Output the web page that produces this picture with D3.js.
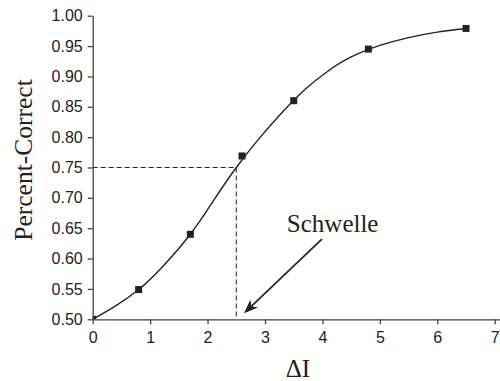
<!DOCTYPE html>
<html>
<head>
<meta charset="utf-8">
<script src="https://cdn.jsdelivr.net/npm/d3@7"></script>
<style>
  html, body { margin: 0; padding: 0; background: #fff; }
  svg { display: block; }
</style>
</head>
<body>
<svg id="chart" width="500" height="381"></svg>
<script>
// Measured data points
const pointX = [0, 0.8, 1.7, 2.6, 3.5, 4.8, 6.5];
const pointY = [0.50, 0.549, 0.640, 0.769, 0.860, 0.945, 0.979];

// Fitted curve
const curveX = [0, 0.4, 0.8, 1.2, 1.7, 2.1, 2.5, 2.9, 3.3, 3.7, 4.1, 4.5, 5.0, 5.5, 6.0, 6.5];
const curveY = [0.500, 0.522, 0.549, 0.585, 0.640, 0.695, 0.750, 0.798, 0.841, 0.879, 0.909, 0.932, 0.951, 0.964, 0.973, 0.979];

// Threshold annotation
const threshold = { x: 2.5, y: 0.75 };
const annotationLabel = "Schwelle";
const arrowFrom = [3.99, 0.632];
const arrowTo = [2.635, 0.51];
const labelAt = [3.38, 0.643];

const xTicks = [0, 1, 2, 3, 4, 5, 6, 7];
const yTicks = [0.50, 0.55, 0.60, 0.65, 0.70, 0.75, 0.80, 0.85, 0.90, 0.95, 1.00];
const xTitle = "ΔI";
const yTitle = "Percent-Correct";

const svg = d3.select("#chart");
const ink = "#222";
const axisInk = "#444";

const x = d3.scaleLinear().domain([0, 7.1]).range([92.7, 500.5]);
const y = d3.scaleLinear().domain([0.5, 1.0]).range([319.3, 15.7]);

// clip to plot area
svg.append("defs").append("clipPath").attr("id", "plotclip")
  .append("rect")
  .attr("x", x(0)).attr("y", 0)
  .attr("width", 500 - x(0)).attr("height", y(0.5));

// dashed guide lines
svg.append("line")
  .attr("x1", x(0)).attr("x2", x(threshold.x))
  .attr("y1", y(threshold.y)).attr("y2", y(threshold.y))
  .attr("stroke", ink).attr("stroke-width", 1).attr("stroke-dasharray", "5,3");
svg.append("line")
  .attr("x1", x(threshold.x)).attr("x2", x(threshold.x))
  .attr("y1", y(threshold.y)).attr("y2", y(0.5))
  .attr("stroke", ink).attr("stroke-width", 1).attr("stroke-dasharray", "5,3");

// curve
const line = d3.line()
  .x(d => x(d[0])).y(d => y(d[1]))
  .curve(d3.curveNatural);
svg.append("path")
  .datum(curveX.map((v, i) => [v, curveY[i]]))
  .attr("d", line)
  .attr("fill", "none")
  .attr("stroke", ink)
  .attr("stroke-width", 1.4);

// points
const sq = 7;
svg.append("g").attr("clip-path", "url(#plotclip)")
  .selectAll("rect")
  .data(pointX.map((v, i) => [v, pointY[i]]))
  .join("rect")
  .attr("x", d => x(d[0]) - sq / 2)
  .attr("y", d => y(d[1]) - sq / 2)
  .attr("width", sq).attr("height", sq)
  .attr("fill", ink);

// axes
const xAxis = d3.axisBottom(x).tickValues(xTicks).tickFormat(d3.format("d"))
  .tickSize(5).tickSizeOuter(0).tickPadding(7);
const gx = svg.append("g").attr("transform", `translate(0,${y(0.5)})`).call(xAxis);

const yAxis = d3.axisLeft(y).tickValues(yTicks).tickFormat(d3.format(".2f"))
  .tickSize(5).tickSizeOuter(0).tickPadding(5);
const gy = svg.append("g").attr("transform", `translate(${x(0)},0)`).call(yAxis);

[gx, gy].forEach(g => {
  g.select(".domain").attr("stroke", axisInk).attr("stroke-width", 1.3);
  g.selectAll(".tick line").attr("stroke", axisInk).attr("stroke-width", 1.3);
  g.selectAll(".tick text")
    .attr("fill", ink)
    .style("font-family", "'Liberation Sans', Arial, sans-serif")
    .style("font-size", "16px");
});

// titles
svg.append("text")
  .attr("x", 298).attr("y", 377)
  .attr("text-anchor", "middle")
  .style("font-family", "'Liberation Serif', 'Times New Roman', serif")
  .style("font-size", "25px")
  .attr("fill", ink)
  .text(xTitle);

svg.append("text")
  .attr("transform", "translate(32,160) rotate(-90)")
  .attr("text-anchor", "middle")
  .style("font-family", "'Liberation Serif', 'Times New Roman', serif")
  .style("font-size", "25.5px")
  .attr("fill", ink)
  .text(yTitle);

// annotation
svg.append("text")
  .attr("x", x(labelAt[0])).attr("y", y(labelAt[1]))
  .style("font-family", "'Liberation Serif', 'Times New Roman', serif")
  .style("font-size", "25px")
  .attr("fill", ink)
  .text(annotationLabel);

const ax0 = x(arrowFrom[0]), ay0 = y(arrowFrom[1]);
const ax1 = x(arrowTo[0]), ay1 = y(arrowTo[1]);
const ang = Math.atan2(ay1 - ay0, ax1 - ax0);
const headLen = 14, headW = 5.5, notch = 10;
const ux = Math.cos(ang), uy = Math.sin(ang);
const px = -uy, py = ux;
svg.append("line")
  .attr("x1", ax0).attr("y1", ay0)
  .attr("x2", ax1 - ux * notch).attr("y2", ay1 - uy * notch)
  .attr("stroke", ink).attr("stroke-width", 1.7);
const head = [
  [ax1, ay1],
  [ax1 - ux * headLen + px * headW, ay1 - uy * headLen + py * headW],
  [ax1 - ux * notch, ay1 - uy * notch],
  [ax1 - ux * headLen - px * headW, ay1 - uy * headLen - py * headW]
];
svg.append("polygon")
  .attr("points", head.map(p => p.join(",")).join(" "))
  .attr("fill", ink);
</script>
</body>
</html>
